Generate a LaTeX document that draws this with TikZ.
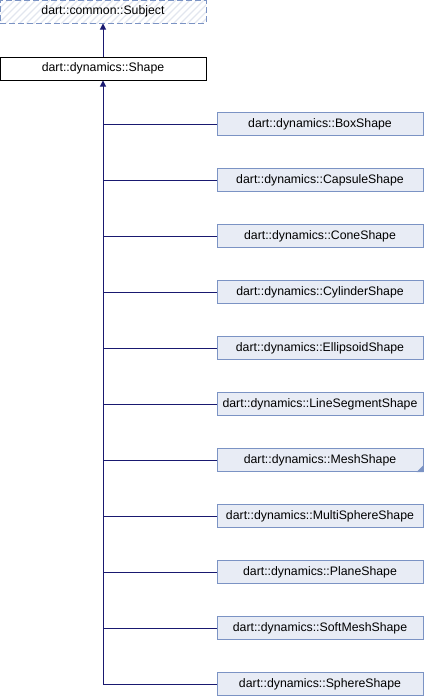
\documentclass[tikz,border=0pt]{standalone}
\usepackage{fontspec}
\setmainfont{Liberation Sans}
\usetikzlibrary{arrows.meta}
\definecolor{edgeblue}{HTML}{191970}
\definecolor{boxborder}{HTML}{7B93C4}
\definecolor{boxfill}{HTML}{E8ECF5}
\definecolor{hatch}{HTML}{E2E6EF}
\begin{document}
\begin{tikzpicture}[x=1pt,y=-1pt,
  txt/.style={font=\fontsize{12.3}{14}\selectfont},
  cls/.style={txt,draw=boxborder,fill=boxfill,line width=1pt,minimum width=206pt,minimum height=23pt,inner sep=0pt},
  main/.style={txt,draw=black,fill=white,line width=1pt,minimum width=206pt,minimum height=23pt,inner sep=0pt},
  ext/.style={txt,draw=boxborder,dashed,dash pattern=on 6pt off 3pt,line width=1pt,minimum width=206pt,minimum height=23pt,inner sep=0pt},
  inh/.style={draw=edgeblue,line width=1pt,-{Triangle[length=6pt,width=6pt]}},
  link/.style={draw=edgeblue,line width=1pt}]
\useasboundingbox (0,0) rectangle (424,696);
% hatched fill of external class
\begin{scope}
  \clip (0.5,0.5) rectangle (206,23);
  \foreach \i in {-30,-23,...,230} {\draw[hatch,line width=1.2pt] (\i,24) -- (\i+24,0);}
\end{scope}
\node[ext] (subj) at (103,11.5) {dart::common::Subject};
\node[main] (shape) at (103,68.5) {dart::dynamics::Shape};
\draw[inh] (shape.north) -- (subj.south);
\coordinate (trunk) at (103,684);
\foreach \n/\t [count=\k from 0] in {box/BoxShape,capsule/CapsuleShape,cone/ConeShape,cyl/CylinderShape,ell/EllipsoidShape,line/LineSegmentShape,mesh/MeshShape,multi/MultiSphereShape,plane/PlaneShape,soft/SoftMeshShape,sphere/SphereShape} {
  \node[cls] (\n) at (320,{124+56*\k}) {dart::dynamics::\t};
  \coordinate (j\n) at (103,{124+56*\k});
  \draw[link] (j\n) -- (\n.west);
}
\draw[inh] (trunk) -- (shape.south);
\fill[boxborder] (mesh.south east) -- ++(0,-7) -- ++(-7,7) -- cycle;
\end{tikzpicture}
\end{document}
